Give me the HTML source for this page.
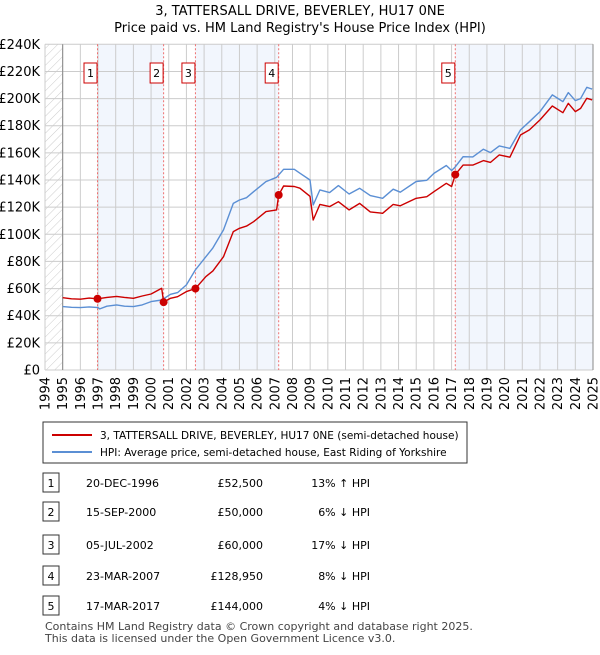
<!DOCTYPE html>
<html><head><meta charset="utf-8">
<style>
body{margin:0;background:#fff;font-family:"Liberation Sans","DejaVu Sans",sans-serif;}
svg text{font-family:"DejaVu Sans","Liberation Sans",sans-serif;}
</style></head>
<body>
<svg id="chart" width="600" height="650" viewBox="0 0 600 650" xmlns="http://www.w3.org/2000/svg">
<defs>
<pattern id="hatch" width="6" height="6" patternUnits="userSpaceOnUse" patternTransform="rotate(45)">
<line x1="0" y1="0" x2="0" y2="6" stroke="#ccc" stroke-width="1"/>
</pattern>
</defs>
<text x="300" y="15" text-anchor="middle" font-size="13">3, TATTERSALL DRIVE, BEVERLEY, HU17 0NE</text>
<text x="300" y="32" text-anchor="middle" font-size="13">Price paid vs. HM Land Registry's House Price Index (HPI)</text>
<g id="plot"></g>
<g>
<rect x="43" y="422" width="424" height="41" fill="#fff" stroke="#333" stroke-width="1"/>
<line x1="52" y1="435" x2="92" y2="435" stroke="#cc0000" stroke-width="2"/>
<text x="100" y="439" font-size="10.5">3, TATTERSALL DRIVE, BEVERLEY, HU17 0NE (semi-detached house)</text>
<line x1="52" y1="452" x2="92" y2="452" stroke="#5b8fd4" stroke-width="2"/>
<text x="100" y="456" font-size="10.5">HPI: Average price, semi-detached house, East Riding of Yorkshire</text>
</g>
<g id="table"></g>
<text x="45" y="630" font-size="11" fill="#444">Contains HM Land Registry data © Crown copyright and database right 2025.</text>
<text x="45" y="642" font-size="11" fill="#444">This data is licensed under the Open Government Licence v3.0.</text>
</svg>
<script>
const hpiYears=[1995.0,1995.5,1996.0,1996.5,1997.0,1997.1,1997.5,1998.05,1998.5,1999.0,1999.5,2000.0,2000.6,2001.1,2001.5,2002.0,2002.5,2003.1,2003.5,2004.1,2004.65,2005.0,2005.4,2005.8,2006.5,2007.1,2007.5,2008.1,2008.42,2008.99,2009.17,2009.55,2010.1,2010.6,2011.2,2011.8,2012.4,2013.1,2013.7,2014.1,2015.0,2015.6,2016.0,2016.7,2017.0,2017.2,2017.65,2018.2,2018.8,2019.2,2019.7,2020.3,2020.9,2021.4,2022.0,2022.7,2023.3,2023.6,2024.0,2024.3,2024.65,2024.85,2024.95];
const hpiValues=[46.7,46.2,46,46.5,46,45,47,48,47,46.7,48,50.4,51.6,55.8,57,62.7,73.7,83.5,90,103.2,122.8,125.3,127,131.4,138.8,142,147.9,147.9,145,140,121.6,132.7,130.7,135.9,129.7,133.9,128.5,126.5,133.2,131,138.9,139.8,144.9,150.7,147,149.5,157.2,157,162.7,160.2,165.1,163.3,176.9,183,190.4,202.7,197.8,204.4,198.5,200,208.3,207.4,207];
const paidYears=[1995.0,1995.5,1996.0,1996.5,1996.97,1997.5,1998.05,1998.5,1999.0,1999.5,2000.0,2000.6,2000.71,2001.1,2001.5,2002.0,2002.51,2003.1,2003.5,2004.1,2004.65,2005.0,2005.4,2005.8,2006.5,2007.1,2007.22,2007.5,2008.1,2008.42,2008.99,2009.17,2009.55,2010.1,2010.6,2011.2,2011.8,2012.4,2013.1,2013.7,2014.1,2015.0,2015.6,2016.0,2016.7,2017.0,2017.21,2017.65,2018.2,2018.8,2019.2,2019.7,2020.3,2020.9,2021.4,2022.0,2022.7,2023.3,2023.6,2024.0,2024.3,2024.65,2024.85,2024.95];
const paidValues=[53.3,52.5,52.2,53,52.5,53.5,54.2,53.5,52.8,54.5,56,60.2,50,52.8,54,57.8,60,68.8,73,83.5,102,104.4,106,109.3,116.7,118,128.95,135.6,135.2,134,128,110.5,122,120.4,124,118,122.8,116.5,115.5,122,121,126.5,127.7,131.4,137.6,135.2,144,151,151,154.3,153,158.5,156.8,173.2,176.9,184.3,194.5,189.6,196.5,190.4,192.8,200.2,199.5,199];
const saleLabels=["1","2","3","4","5"];
const saleYears=[1996.97,2000.71,2002.51,2007.22,2017.21];
const salePrices=[52.5,50,60,128.95,144];
const saleDates=["20-DEC-1996","15-SEP-2000","05-JUL-2002","23-MAR-2007","17-MAR-2017"];
const salePriceText=["£52,500","£50,000","£60,000","£128,950","£144,000"];
const saleHpiText=["13% ↑ HPI","6% ↓ HPI","17% ↓ HPI","8% ↓ HPI","4% ↓ HPI"];
const yTicks=[0,20,40,60,80,100,120,140,160,180,200,220,240];
const xTicks=[1994,1995,1996,1997,1998,1999,2000,2001,2002,2003,2004,2005,2006,2007,2008,2009,2010,2011,2012,2013,2014,2015,2016,2017,2018,2019,2020,2021,2022,2023,2024,2025];

const NS="http://www.w3.org/2000/svg";
const L=45,R=593,T=44.3,B=370;
const X=y=>L+(y-1994)/(2025-1994)*(R-L);
const Y=v=>B-v/240*(B-T);
const plot=document.getElementById('plot');
function mk(tag,attrs,parent){const e=document.createElementNS(NS,tag);for(const k in attrs)e.setAttribute(k,attrs[k]);(parent||plot).appendChild(e);return e;}
const bands=[[0,1],[2,3],[4,null]];
bands.forEach(b=>{const x1=X(saleYears[b[0]]);const x2=b[1]===null?R:X(saleYears[b[1]]);
const r=mk('rect',{x:x1,y:T,width:x2-x1,height:B-T,fill:'#eef3fc',opacity:'0.75'});

});
const h=mk('rect',{x:L,y:T,width:X(1995)-L,height:B-T,fill:'url(#hatch)'});


yTicks.forEach(v=>{const l=mk('line',{x1:L,x2:R,y1:Y(v),y2:Y(v),stroke:'#ccc','stroke-width':1});


const t=mk('text',{x:40,y:Y(v)+4.5,'text-anchor':'end','font-size':13});
t.textContent='£'+v+(v?'K':'');

});
xTicks.forEach(y=>{const l=mk('line',{x1:X(y),x2:X(y),y1:T,y2:B,stroke:'#ccc','stroke-width':1});


const t=mk('text',{x:0,y:0,'text-anchor':'end','font-size':13,transform:`translate(${X(y)+4.5},${B+7}) rotate(-90)`});
t.textContent=y;

});
const ax=mk('line',{x1:X(1995),x2:X(1995),y1:T,y2:B,stroke:'#888','stroke-width':1});


const ax2=mk('line',{x1:R,x2:R,y1:T,y2:B,stroke:'#888','stroke-width':1});


saleYears.forEach((y,i)=>{const l=mk('line',{x1:X(y),x2:X(y),y1:T,y2:B,stroke:'#ee7070','stroke-width':1,'stroke-dasharray':'2,2'});


const r=mk('rect',{x:X(y)-13.5,y:63,width:13,height:20,fill:'#fff',stroke:'#cc0000','stroke-width':1});


const t=mk('text',{x:X(y)-7,y:77,'text-anchor':'middle','font-size':11});
t.textContent=saleLabels[i];

});
function line(xs,vs,col,name){const p=mk('path',{d:xs.map((x,i)=>(i?'L':'M')+X(x).toFixed(1)+','+Y(vs[i]).toFixed(1)).join(''),fill:'none',stroke:col,'stroke-width':1.4,'stroke-linejoin':'round'});

}
line(hpiYears,hpiValues,'#5b8fd4','hpi-line');
line(paidYears,paidValues,'#cc0000','price-paid-line');
saleYears.forEach((y,i)=>{const c=mk('circle',{cx:X(y),cy:Y(salePrices[i]),r:4,fill:'#cc0000'});

});
const tbl=document.getElementById('table');
const rowY=[483,512,545,576,606];
saleLabels.forEach((s,i)=>{const y=rowY[i];
const r=mk('rect',{x:43,y:y-10,width:16,height:19,fill:'#fff',stroke:'#333','stroke-width':1},tbl);


const cells=[[51,'middle',s,'row-number'],[86,'start',saleDates[i],'row-date'],[263,'end',salePriceText[i],'row-price'],[370,'end',saleHpiText[i],'row-hpi-diff']];
cells.forEach(c=>{const t=mk('text',{x:c[0],y:y+4,'text-anchor':c[1],'font-size':11},tbl);t.textContent=c[2];

});});
</script>
</body></html>
